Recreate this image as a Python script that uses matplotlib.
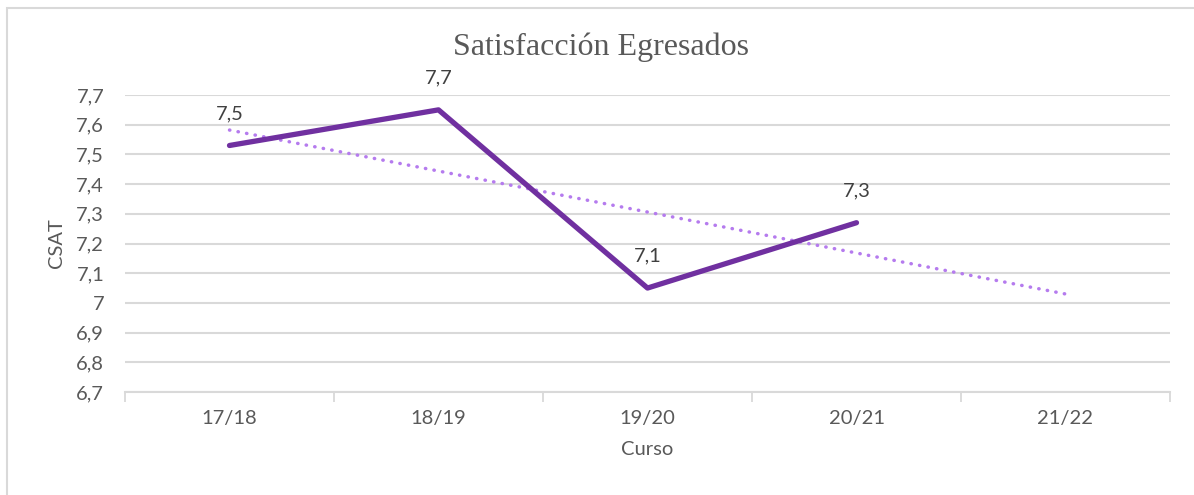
import numpy as np
import matplotlib.pyplot as plt
from matplotlib.patches import Rectangle
from matplotlib.ticker import FuncFormatter, FixedLocator

# Data
cursos = ['17/18', '18/19', '19/20', '20/21', '21/22']
csat = [7.53, 7.65, 7.05, 7.27]
etiquetas = ['7,5', '7,7', '7,1', '7,3']

W, H = 1194, 495
fig = plt.figure(figsize=(W / 100, H / 100), dpi=100)
ax = fig.add_axes([125 / W, 1 - 392 / H, (1170 - 125) / W, (392 - 95) / H])

# Outer border of the chart area
fig.patches.append(Rectangle((7 / W, -0.1), 1.2, 1 - 8 / H + 0.1, transform=fig.transFigure,
                             fill=False, edgecolor='#D9D9D9', linewidth=1.5))

x = np.arange(len(csat))
ax.plot(x, csat, color='#7030A0', linewidth=3.8, solid_capstyle='round', zorder=3)

# Linear trend line (as in Excel), extended to the last course
coef = np.polyfit(x + 1, csat, 1)
xt = np.arange(len(cursos))
ax.plot(xt, np.polyval(coef, xt + 1), color='#B57BEE', linewidth=2.5,
        linestyle=(0, (0.1, 2.4)), dash_capstyle='round', zorder=2)

for xi, yi, lab in zip(x, csat, etiquetas):
    ax.annotate(lab, (xi, yi), xytext=(0, 17), textcoords='offset points',
                ha='center', va='bottom', fontsize=14.5, color='#404040', family='Lato')

ax.set_xlim(-0.5, 4.5)
ax.set_ylim(6.7, 7.7)
ax.set_yticks(np.round(np.arange(6.7, 7.71, 0.1), 1))
ax.yaxis.set_major_formatter(FuncFormatter(lambda v, p: ('%g' % round(v, 1)).replace('.', ',')))
ax.set_xticks(xt)
ax.set_xticklabels(cursos)
ax.xaxis.set_minor_locator(FixedLocator(np.arange(-0.5, 4.6, 1)))
ax.tick_params(axis='x', which='major', length=0, pad=13, labelsize=14.5, labelcolor='#595959')
ax.tick_params(axis='x', which='minor', length=7, width=1.3, color='#D9D9D9', direction='out')
ax.tick_params(axis='y', length=0, pad=15, labelsize=14.5, labelcolor='#595959')
for lab in ax.get_xticklabels() + ax.get_yticklabels():
    lab.set_family('Lato')

ax.grid(axis='y', color='#D9D9D9', linewidth=1.5)
ax.set_axisbelow(True)
for s in ['top', 'right', 'left']:
    ax.spines[s].set_visible(False)
ax.spines['bottom'].set_color('#D9D9D9')
ax.spines['bottom'].set_linewidth(1.5)

ax.set_xlabel('Curso', fontsize=14.5, color='#595959', family='Lato', labelpad=10)
ax.set_ylabel('CSAT', fontsize=14.5, color='#595959', family='Lato', labelpad=8)
fig.text(601 / W, 1 - 47 / H, 'Satisfacción Egresados', ha='center', va='center',
         fontsize=23, color='#595959', family='Liberation Serif')

fig.savefig('out.png', dpi=100)
